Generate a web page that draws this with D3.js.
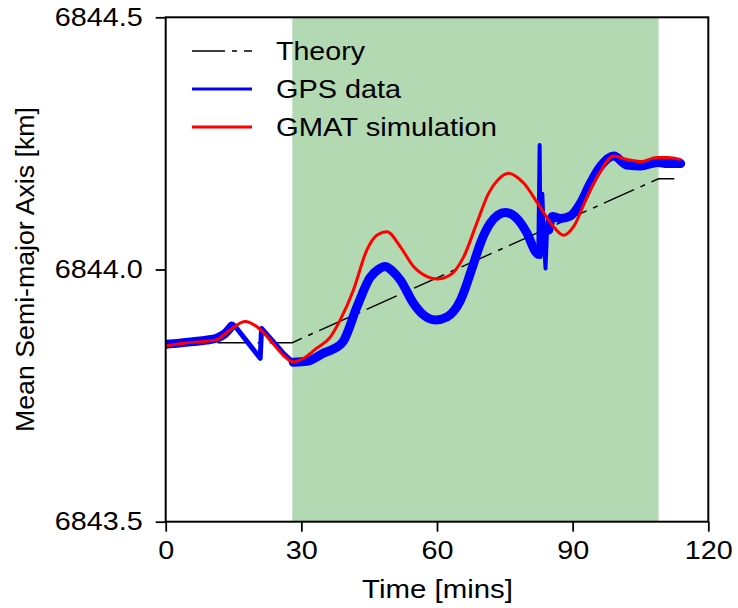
<!DOCTYPE html>
<html><head><meta charset="utf-8">
<script src="https://cdn.jsdelivr.net/npm/d3@7"></script>
<style>body{margin:0;background:#fff}svg{display:block}text{font-family:"Liberation Sans",Arial,sans-serif;fill:#000}</style>
</head><body>
<svg id="c" width="738" height="608"></svg>
<script>
const xTicks = [0, 30, 60, 90, 120];
const yTicks = [6843.5, 6844.0, 6844.5];
const shadedSpan = [28, 109];
const theoryT = [0, 28, 109, 112.5];
const theoryV = [6843.855, 6843.855, 6844.18, 6844.18];
const gpsT = [0, 3, 6, 9, 11.3, 13, 14.6, 15.3, 20.9, 21.2, 23.5, 26, 28.2, 31.2, 34.9, 37, 39.3, 42.3, 45.2, 47, 48.5, 50, 51.9, 54.8, 57, 59.6, 62.2, 65.2, 68.1, 69.6, 71.8, 73.5, 75.1, 77.7, 79.9, 81.8, 82.4, 82.7, 82.9, 83.3, 83.7, 84, 84.3, 84.7, 85.5, 87.3, 89.5, 91.7, 93.9, 96.1, 99.1, 102, 105, 108.7, 111, 113.9];
const gpsV = [6843.852, 6843.854, 6843.857, 6843.86, 6843.864, 6843.872, 6843.888, 6843.888, 6843.824, 6843.883, 6843.86, 6843.834, 6843.816, 6843.818, 6843.834, 6843.842, 6843.858, 6843.926, 6843.984, 6844.0, 6844.006, 6843.998, 6843.979, 6843.933, 6843.91, 6843.9, 6843.906, 6843.939, 6844.012, 6844.052, 6844.092, 6844.108, 6844.113, 6844.101, 6844.072, 6844.035, 6844.03, 6844.247, 6844.025, 6844.15, 6844.05, 6844.002, 6844.07, 6844.078, 6844.105, 6844.101, 6844.106, 6844.131, 6844.171, 6844.204, 6844.225, 6844.207, 6844.205, 6844.212, 6844.21, 6844.21];
const gmatT = [0, 3.9, 8, 11.3, 14.2, 17.6, 20.1, 23.1, 26, 28.2, 30.5, 33.4, 36.4, 38.6, 41.5, 44.5, 46.7, 48.9, 51.9, 54.8, 57.8, 60, 62.9, 65.9, 68.8, 71.4, 73.5, 75.8, 79.2, 82.5, 85.5, 88, 90.2, 93.2, 96.1, 99.1, 102, 105, 108.7, 111, 113.9];
const gmatV = [6843.849, 6843.854, 6843.857, 6843.861, 6843.88, 6843.897, 6843.887, 6843.86, 6843.83, 6843.817, 6843.824, 6843.844, 6843.866, 6843.9, 6843.959, 6844.039, 6844.068, 6844.075, 6844.045, 6844.006, 6843.986, 6843.981, 6843.989, 6844.025, 6844.092, 6844.151, 6844.178, 6844.191, 6844.171, 6844.128, 6844.088, 6844.068, 6844.085, 6844.144, 6844.194, 6844.225, 6844.218, 6844.214, 6844.222, 6844.222, 6844.218];
const legendLabels = ["Theory", "GPS data", "GMAT simulation"];
// time window where the GPS trace is a clean sawtooth (drawn with straight segments)
const sawWindow = [14.6, 28.2];
const spikeWindow = [82.4, 84.7];

const L = 165.7, R = 708.3, T = 17.3, B = 521.7;
const x = d3.scaleLinear().domain([0, 120]).range([L, R]);
const y = d3.scaleLinear().domain([6843.5, 6844.5]).range([B, T]);
const svg = d3.select("#c");

function stretch(sel, k) {
  sel.each(function () {
    const w = this.getComputedTextLength();
    d3.select(this).attr("textLength", w * k).attr("lengthAdjust", "spacingAndGlyphs");
  });
}
function fixWidth(sel, w) { sel.attr("textLength", w).attr("lengthAdjust", "spacingAndGlyphs"); }

svg.append("rect").attr("x", x(shadedSpan[0])).attr("y", T).attr("width", x(shadedSpan[1]) - x(shadedSpan[0])).attr("height", B - T).attr("fill", "rgb(178,217,178)");

svg.append("clipPath").attr("id", "cp").append("rect").attr("x", L).attr("y", T).attr("width", R - L).attr("height", B - T);
const g = svg.append("g").attr("clip-path", "url(#cp)");
const line = d3.line().x(d => x(d[0])).y(d => y(d[1]));
const curve = d3.line().x(d => x(d[0])).y(d => y(d[1])).curve(d3.curveMonotoneX);

g.append("path").datum(theoryT.map((t, i) => [t, theoryV[i]])).attr("d", line).attr("fill", "none").attr("stroke", "#000").attr("stroke-width", 1.5).attr("stroke-dasharray", "33,7,5,7");

const gps = gpsT.map((t, i) => [t, gpsV[i]]);
const segA = gps.filter(d => d[0] <= sawWindow[0]);
const segB = gps.filter(d => d[0] >= sawWindow[0] && d[0] <= sawWindow[1]);
const segC = gps.filter(d => d[0] >= sawWindow[1] && d[0] <= spikeWindow[0]);
const segD = gps.filter(d => d[0] >= spikeWindow[0] && d[0] <= spikeWindow[1]);
const segE = gps.filter(d => d[0] >= spikeWindow[1]);
const blue = (data, gen, w) => g.append("path").datum(data).attr("d", gen).attr("fill", "none").attr("stroke", "#0000ff").attr("stroke-width", w).attr("stroke-linejoin", "round").attr("stroke-linecap", "round");
blue(segA, curve, 9);
blue(segB, line, 5);
blue(segC, curve, 9);
blue(segD, line, 4);
blue(segE, curve, 9);
g.append("path").datum(gmatT.map((t, i) => [t, gmatV[i]])).attr("d", curve).attr("fill", "none").attr("stroke", "#ff0000").attr("stroke-width", 3);

// axes
const xa = svg.append("g").attr("transform", `translate(0,${B})`).call(d3.axisBottom(x).tickValues(xTicks).tickSize(10).tickPadding(10).tickFormat(d3.format("d")));
const ya = svg.append("g").attr("transform", `translate(${L},0)`).call(d3.axisLeft(y).tickValues(yTicks).tickSize(10).tickPadding(13).tickFormat(d3.format(".1f")));
[xa, ya].forEach(a => {
  a.select(".domain").remove();
  a.selectAll("line").attr("stroke", "#000").attr("stroke-width", 1.8);
  a.selectAll("text").style("font-size", "25px").attr("fill", "#000");
  stretch(a.selectAll("text"), 1.15);
});
svg.append("rect").attr("x", L).attr("y", T).attr("width", R - L).attr("height", B - T).attr("fill", "none").attr("stroke", "#000").attr("stroke-width", 2);

const xt = svg.append("text").attr("x", 437.5).attr("y", 598).attr("text-anchor", "middle").style("font-size", "26px").text("Time [mins]");
fixWidth(xt, 151);
const yt = svg.append("text").attr("transform", `translate(34,${(T + B) / 2}) rotate(-90)`).attr("text-anchor", "middle").style("font-size", "25px").text("Mean Semi-major Axis [km]");
fixWidth(yt, 325);

// legend
const ly = [51, 89, 127];
const lw = [89, 125, 221];
const lg = svg.append("g");
lg.append("line").attr("x1", 192).attr("x2", 252).attr("y1", ly[0]).attr("y2", ly[0]).attr("stroke", "#000").attr("stroke-width", 1.5).attr("stroke-dasharray", "33,7,5,7");
lg.append("line").attr("x1", 192).attr("x2", 252).attr("y1", ly[1]).attr("y2", ly[1]).attr("stroke", "#0000ff").attr("stroke-width", 3);
lg.append("line").attr("x1", 192).attr("x2", 252).attr("y1", ly[2]).attr("y2", ly[2]).attr("stroke", "#ff0000").attr("stroke-width", 3);
legendLabels.forEach((s, i) => {
  const t = lg.append("text").attr("x", 276).attr("y", ly[i]).attr("dy", "0.36em").style("font-size", "26px").text(s);
  fixWidth(t, lw[i]);
});
</script>
</body></html>
